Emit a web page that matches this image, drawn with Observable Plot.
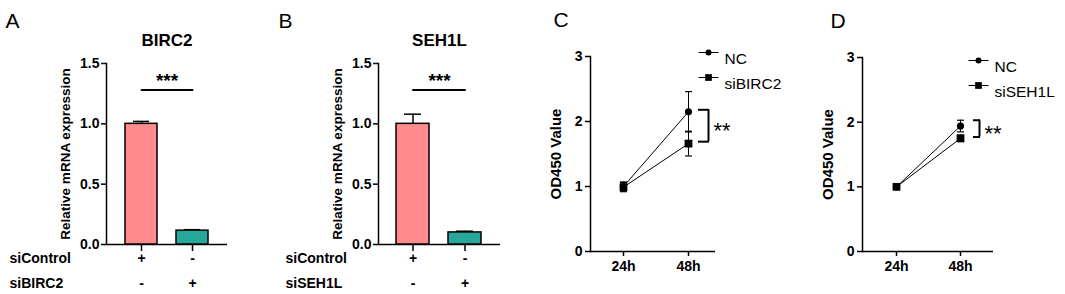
<!DOCTYPE html>
<html>
<head>
<meta charset="utf-8">
<script src="https://cdn.jsdelivr.net/npm/d3@7"></script>
<script src="https://cdn.jsdelivr.net/npm/@observablehq/plot@0.6"></script>
<style>
  html, body { margin: 0; padding: 0; background: #fff; }
  #chart { display: flex; flex-direction: row; width: 1065px; height: 294px; }
</style>
</head>
<body>
<div id="chart"></div>
<script>
// ---------- data ----------
const groupsA = ["siControl", "siBIRC2"];
const valuesA = [1.0, 0.115];
const errorsA = [0.02, 0.008];
const groupsB = ["siControl", "siSEH1L"];
const valuesB = [1.0, 0.10];
const errorsB = [0.08, 0.01];
const barColors = ["#FF8B8F", "#2AA79B"];
const signsControl = ["+", "-"];
const signsKnockdown = ["-", "+"];
const yTicksBar = [0, 0.5, 1.0, 1.5];
const sigBar = [1.28, 1.28];

const timepoints = ["24h", "48h"];
const yTicksOD = [0, 1, 2, 3];
const ncC = [1.0, 2.15];
const ncErrC = [0.07, 0.31];
const siC = [0.99, 1.66];
const siErrC = [0.07, 0.19];
const sigC = [2.18, 1.69];
const ncD = [1.0, 1.94];
const ncErrD = [0.02, 0.09];
const siD = [1.0, 1.75];
const siErrD = [0.02, 0.05];
const sigD = [2.03, 1.77];

const FONT = "'Liberation Sans', Arial, Helvetica, sans-serif";

function barPanel(o) {
  const bars = o.groups.map((g, i) => ({group: g, value: o.values[i], err: o.errors[i], color: barColors[i], s1: signsControl[i], s2: signsKnockdown[i]}));
  return Plot.plot({
    width: o.width, height: 294,
    marginLeft: o.marginLeft, marginRight: o.marginRight, marginTop: 63, marginBottom: 50,
    style: {fontFamily: FONT, fontSize: "13px", color: "#000", background: "#fff", overflow: "visible"},
    x: {type: "band", domain: o.groups, paddingInner: 0.365, paddingOuter: 0.346},
    y: {domain: [0, 1.5]},
    color: {type: "identity"},
    marks: [
      Plot.frame({anchor: "left", strokeWidth: 1.5}),
      Plot.ruleY([0], {strokeWidth: 1.5}),
      Plot.axisY({ticks: yTicksBar, tickFormat: d3.format(".1f"), tickSize: 5, tickPadding: 2, strokeWidth: 1.5, fontWeight: "bold", fontSize: 14, label: null}),
      Plot.axisX({tickSize: 7, strokeWidth: 1.5, tickFormat: () => "", label: null}),
      Plot.ruleX(bars, {x: "group", y1: "value", y2: d => d.value + d.err, strokeWidth: 1.5}),
      Plot.tickY(bars, {x: "group", y: d => d.value + d.err, insetLeft: 8, insetRight: 8, strokeWidth: 1.5}),
      Plot.barY(bars, {x: "group", y: "value", fill: "color", stroke: "black", strokeWidth: 1.5}),
      Plot.line(bars, {x: "group", y: (d, i) => sigBar[i], strokeWidth: 2}),
      Plot.text(["***"], {frameAnchor: "middle", y: () => sigBar[0], text: d => d, dy: -9, fontSize: 19, fontWeight: "bold"}),
      Plot.text([o.title], {frameAnchor: "top", dy: -30, text: d => d, fontSize: 17, fontWeight: "bold"}),
      Plot.text([o.letter], {frameAnchor: "top-left", dx: o.letterDx, dy: -50, text: d => d, fontSize: 21, textAnchor: "start"}),
      Plot.text([o.yLabel], {frameAnchor: "left", dx: -41, rotate: -90, text: d => d, textAnchor: "middle", fontSize: 13.5, fontWeight: "bold"}),
      Plot.text(bars, {x: "group", frameAnchor: "bottom", dy: 18, text: "s1", fontSize: 14, fontWeight: "bold"}),
      Plot.text(bars, {x: "group", frameAnchor: "bottom", dy: 43, text: "s2", fontSize: 14, fontWeight: "bold"}),
      Plot.text([o.groups[0]], {frameAnchor: "bottom-left", dx: o.rowDx, dy: 18, text: d => d, textAnchor: "start", fontSize: 14, fontWeight: "bold"}),
      Plot.text([o.groups[1]], {frameAnchor: "bottom-left", dx: o.rowDx, dy: 43, text: d => d, textAnchor: "start", fontSize: 14, fontWeight: "bold"})
    ]
  });
}

const capSymbol = {draw(ctx) { ctx.moveTo(-3.5, 0); ctx.lineTo(3.5, 0); }};
const legendLine = {draw(ctx) { ctx.moveTo(-10, 0); ctx.lineTo(10, 0); }};

function linePanel(o) {
  const pts = [];
  timepoints.forEach((t, i) => {
    pts.push({series: "NC", t, v: o.nc[i], e: o.ncErr[i]});
  });
  timepoints.forEach((t, i) => {
    pts.push({series: o.siName, t, v: o.si[i], e: o.siErr[i]});
  });
  const nc = pts.filter(d => d.series === "NC");
  const si = pts.filter(d => d.series !== "NC");
  const legend = [{label: "NC", symbol: "circle", r: 3}, {label: o.siName, symbol: "square", r: 3.8}];
  const legendMarks = legend.flatMap((item, i) => [
    Plot.dot([item], {frameAnchor: "top-right", dx: o.legDx, dy: o.legDy + i * 25, symbol: legendLine, fill: "none", stroke: "black", strokeWidth: 1}),
    Plot.dot([item], {frameAnchor: "top-right", dx: o.legDx, dy: o.legDy + i * 25, symbol: item.symbol, r: item.r, fill: "black", stroke: "none"}),
    Plot.text([item], {frameAnchor: "top-right", dx: o.legDx + 16, dy: o.legDy + i * 25, text: "label", textAnchor: "start", fontSize: 15.5})
  ]);
  const brk = [{t: "48h", y1: o.sig[0], y2: o.sig[1]}];
  return Plot.plot({
    width: o.width, height: 294,
    marginLeft: o.marginLeft, marginRight: o.marginRight, marginTop: o.marginTop, marginBottom: 43,
    style: {fontFamily: FONT, fontSize: "13px", color: "#000", background: "#fff", overflow: "visible"},
    x: {type: "point", domain: timepoints, padding: o.padding, align: o.align},
    y: {domain: [0, 3]},
    marks: [
      Plot.frame({anchor: "left", strokeWidth: 1.5}),
      Plot.ruleY([0], {strokeWidth: 1.5}),
      Plot.axisY({ticks: yTicksOD, tickFormat: d3.format("d"), tickSize: 5, tickPadding: 3, strokeWidth: 1.5, fontWeight: "bold", fontSize: 14, label: null}),
      Plot.axisX({tickSize: 5, tickPadding: 5, strokeWidth: 1.5, fontWeight: "bold", fontSize: 14, label: null}),
      Plot.line(pts, {x: "t", y: "v", z: "series", stroke: "black", strokeWidth: 1}),
      Plot.ruleX(pts, {x: "t", y1: d => d.v - d.e, y2: d => d.v + d.e, strokeWidth: 1}),
      Plot.dot(pts, {x: "t", y: d => d.v + d.e, symbol: capSymbol, fill: "none", stroke: "black", strokeWidth: 1.2}),
      Plot.dot(pts, {x: "t", y: d => d.v - d.e, symbol: capSymbol, fill: "none", stroke: "black", strokeWidth: 1.2}),
      Plot.dot(nc, {x: "t", y: "v", symbol: "circle", r: 3.6, fill: "black", stroke: "none"}),
      Plot.dot(si, {x: "t", y: "v", symbol: "square", r: 4.4, fill: "black", stroke: "none"}),
      Plot.ruleX(brk, {x: "t", y1: "y1", y2: "y2", dx: o.brDx, strokeWidth: 2}),
      Plot.ruleY([{t: "48h", y: o.sig[0]}, {t: "48h", y: o.sig[1]}], {x1: "t", x2: "t", y: "y", dx: o.brDx - o.serif, insetRight: -(o.serif + 1), strokeWidth: 2}),
      Plot.text(brk, {x: "t", y: d => (d.y1 + d.y2) / 2, text: () => "**", dx: o.brDx + 5, dy: 5, textAnchor: "start", fontSize: 22}),
      Plot.text([o.letter], {frameAnchor: "top-left", dx: o.letterDx, dy: -44, text: d => d, fontSize: 21, textAnchor: "start"}),
      Plot.text(["OD450 Value"], {frameAnchor: "left", dx: -34, rotate: -90, text: d => d, textAnchor: "middle", fontSize: 15, fontWeight: "bold"}),
      ...legendMarks
    ]
  });
}

const chart = document.getElementById("chart");
chart.append(barPanel({width: 260, marginLeft: 106, marginRight: 33, letter: "A", letterDx: -101, rowDx: -97, title: "BIRC2", yLabel: "Relative mRNA expression", groups: groupsA, values: valuesA, errors: errorsA}));
chart.append(barPanel({width: 270, marginLeft: 118, marginRight: 30, letter: "B", letterDx: -100, rowDx: -93, title: "SEH1L", yLabel: "Relative mRNA expression", groups: groupsB, values: valuesB, errors: errorsB}));
chart.append(linePanel({width: 265, marginLeft: 60, marginRight: 80, marginTop: 56, padding: 0.4615, align: 0.55, letter: "C", letterDx: -37, siName: "siBIRC2", nc: ncC, ncErr: ncErrC, si: siC, siErr: siErrC, sig: sigC, brDx: 20, serif: 10, legDx: -7, legDy: -4}));
chart.append(linePanel({width: 270, marginLeft: 67, marginRight: 72, marginTop: 57, padding: 0.508, align: 0.5, letter: "D", letterDx: -32, siName: "siSEH1L", nc: ncD, ncErr: ncErrD, si: siD, siErr: siErrD, sig: sigD, brDx: 19, serif: 6, legDx: -15, legDy: 3}));
</script>
</body>
</html>
